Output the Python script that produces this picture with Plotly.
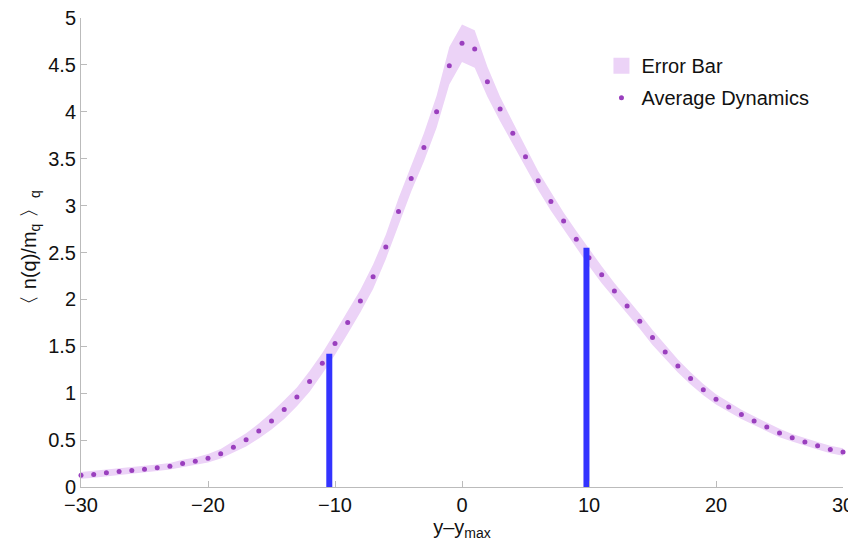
import plotly.graph_objects as go

x_vals = list(range(-30, 31))
avg_vals = [0.124, 0.134, 0.152, 0.166, 0.177, 0.19, 0.205, 0.222, 0.25, 0.274,
            0.306, 0.355, 0.425, 0.503, 0.596, 0.703, 0.825, 0.96, 1.126, 1.318,
            1.531, 1.755, 1.983, 2.242, 2.559, 2.938, 3.29, 3.62, 4.0, 4.49,
            4.73,
            4.67, 4.32, 4.03, 3.77, 3.52, 3.265, 3.045, 2.836, 2.64, 2.445,
            2.263, 2.09, 1.93, 1.766, 1.595, 1.44, 1.29, 1.158, 1.037, 0.935,
            0.853, 0.774, 0.703, 0.64, 0.576, 0.526, 0.48, 0.44, 0.40, 0.373]
err_vals = [0.035, 0.035, 0.035, 0.035, 0.035, 0.035, 0.035, 0.035, 0.04, 0.04,
            0.045, 0.05, 0.06, 0.07, 0.08, 0.09, 0.1, 0.1, 0.11, 0.11,
            0.12, 0.12, 0.12, 0.13, 0.13, 0.14, 0.14, 0.15, 0.17, 0.2,
            0.2,
            0.2, 0.16, 0.13, 0.12, 0.11, 0.1, 0.1, 0.09, 0.09, 0.09,
            0.09, 0.085, 0.085, 0.08, 0.08, 0.075, 0.07, 0.065, 0.06, 0.055,
            0.05, 0.05, 0.05, 0.045, 0.045, 0.04, 0.04, 0.04, 0.04, 0.04]

marker_x = [-10.45, 9.8]
marker_top = [1.42, 2.55]
marker_bottom = -0.06

x_ticks = [-30, -20, -10, 0, 10, 20, 30]
y_ticks = [0, 0.5, 1, 1.5, 2, 2.5, 3, 3.5, 4, 4.5, 5]
y_tick_text = ["0", "0.5", "1", "1.5", "2", "2.5", "3", "3.5", "4", "4.5", "5"]

band_color = "#ecd3f7"
dot_color = "#9a3fbe"

upper = [a + e for a, e in zip(avg_vals, err_vals)]
lower = [a - e for a, e in zip(avg_vals, err_vals)]

fig = go.Figure()
fig.add_trace(go.Scatter(
    x=x_vals + x_vals[::-1], y=upper + lower[::-1],
    fill="toself", fillcolor=band_color, line=dict(width=0, color=band_color),
    mode="lines", name="Error Bar", showlegend=False, hoverinfo="skip"))
# legend swatch for the band
fig.add_trace(go.Scatter(
    x=[None], y=[None], mode="markers", name="Error Bar", legendgroup="a",
    marker=dict(symbol="square", size=20, color=band_color)))
fig.add_trace(go.Scatter(
    x=x_vals, y=avg_vals, mode="markers", name="Average Dynamics", legendgroup="b",
    marker=dict(size=5, color=dot_color), cliponaxis=False))

bx, by = [], []
for xv, top in zip(marker_x, marker_top):
    bx += [xv, xv, None]
    by += [marker_bottom, top, None]
fig.add_trace(go.Scatter(x=bx, y=by, mode="lines",
                         line=dict(color="#3333ff", width=6),
                         showlegend=False, cliponaxis=False, hoverinfo="skip"))

axis_font = dict(family="Liberation Sans, Arial, sans-serif", size=20, color="#111111")
# the page body adds an 8px offset; the figure is sized to fit the window
fig.update_layout(
    width=848, height=533,
    margin=dict(l=73, r=13, t=10, b=54),
    paper_bgcolor="white", plot_bgcolor="white",
    font=axis_font,
    legend=dict(x=0.683, y=0.94, xanchor="left", yanchor="top",
                font=dict(family="Liberation Sans, Arial, sans-serif", size=20, color="#111111"),
                bgcolor="rgba(0,0,0,0)", itemwidth=30, tracegroupgap=3),
    xaxis=dict(range=[-30, 30], tickvals=x_ticks, showgrid=False, zeroline=False,
               showline=True, linecolor="#bbbbbb", linewidth=1,
               ticks="inside", ticklen=6, tickcolor="#bbbbbb",
               tickfont=axis_font, automargin=False, ticklabeloverflow="allow",
               title=dict(text="y–y<sub>max</sub>", font=axis_font, standoff=0)),
    yaxis=dict(range=[0, 5], tickvals=y_ticks, ticktext=y_tick_text,
               showgrid=False, zeroline=False,
               showline=True, linecolor="#bbbbbb", linewidth=1,
               ticks="inside", ticklen=6, tickcolor="#bbbbbb",
               tickfont=axis_font, automargin=False, ticklabeloverflow="allow",
               title=dict(text="〈 n(q)/m<sub>q</sub> 〉<sub>q</sub>", font=axis_font, standoff=6)),
)

fig.write_html("out.html")
